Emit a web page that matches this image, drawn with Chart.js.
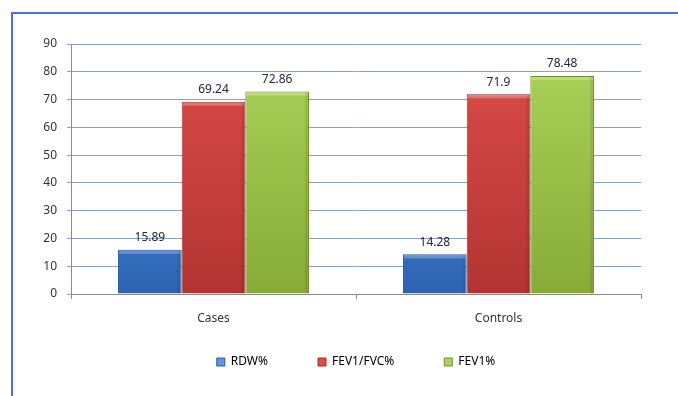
<!DOCTYPE html>
<html>
<head>
<meta charset="utf-8">
<script src="https://cdn.jsdelivr.net/npm/chart.js@4/dist/chart.umd.min.js"></script>
<style>
  html, body { margin: 0; padding: 0; background: #fff; }
  #wrap { position: relative; width: 678px; height: 396px; overflow: hidden; }
  #frame {
    position: absolute; left: 11px; top: 12px; width: 700px; height: 400px;
    border-left: 2px solid #4a72d8; border-top: 2px solid #4a72d8;
    pointer-events: none;
  }
</style>
</head>
<body>
<div id="wrap">
  <canvas id="chart" width="678" height="396"></canvas>
  <div id="frame"></div>
</div>
<script>
// chart data
const categories = ['Cases', 'Controls'];
const seriesNames = ['RDW%', 'FEV1/FVC%', 'FEV1%'];
const rdw = [15.89, 14.28];
const fev1Fvc = [69.24, 71.9];
const fev1 = [72.86, 78.48];
const yTicks = [0, 10, 20, 30, 40, 50, 60, 70, 80, 90];

// top / bottom gradient colours + border per series
const palette = [
    { top: '#5a98e6', bottom: '#2c64b2', border: '#2a5a9c' },
    { top: '#dd4d4a', bottom: '#b23432', border: '#9c2e2c' },
    { top: '#abd45a', bottom: '#88ab38', border: '#6f8e2c' }
];

function gradientFill(idx) {
    return function(context) {
        const chart = context.chart;
        const area = chart.chartArea;
        if (!area) return palette[idx].top;
        const g = chart.ctx.createLinearGradient(0, area.top, 0, area.bottom);
        g.addColorStop(0, palette[idx].top);
        g.addColorStop(1, palette[idx].bottom);
        return g;
    };
}

// values written above each bar
const valueLabels = {
    id: 'valueLabels',
    afterDatasetsDraw(chart) {
        const ctx = chart.ctx;
        ctx.save();
        ctx.font = '12px "Noto Sans", sans-serif';
        ctx.fillStyle = '#262640';
        ctx.textAlign = 'center';
        ctx.textBaseline = 'bottom';
        chart.data.datasets.forEach((ds, i) => {
            chart.getDatasetMeta(i).data.forEach((bar, j) => {
                ctx.fillText(String(ds.data[j]), bar.x, bar.y - 6);
            });
        });
        ctx.restore();
    }
};

// light bevel on the top edge of each bar
const bevel = {
    id: 'bevel',
    afterDatasetsDraw(chart) {
        const ctx = chart.ctx;
        ctx.save();
        chart.data.datasets.forEach((ds, i) => {
            chart.getDatasetMeta(i).data.forEach(bar => {
                const left = bar.x - bar.width / 2;
                ctx.fillStyle = 'rgba(255,255,255,0.25)';
                ctx.fillRect(left + 1, bar.y + 1, bar.width - 2, 3);
                ctx.fillStyle = 'rgba(0,0,0,0.08)';
                ctx.fillRect(left + bar.width - 4, bar.y + 1, 3, bar.base - bar.y - 1);
            });
        });
        ctx.restore();
    }
};

// wide gaps between legend items but a short legend box, kept just under the axis labels
const legendPlacement = {
    id: 'legendPlacement',
    afterInit(chart) {
        const lg = chart.legend;
        const fit = lg.fit.bind(lg);
        lg.fit = function() {
            fit();
            this.height = 30;
        };
    },
    afterLayout(chart) {
        const lg = chart.legend;
        lg.top = chart.chartArea.bottom + 12;
        lg.bottom = lg.top + 80;
    }
};

const ctx = document.getElementById('chart').getContext('2d');
const chart = new Chart(ctx, {
    type: 'bar',
    data: {
        labels: categories,
        datasets: [rdw, fev1Fvc, fev1].map((values, i) => ({
            label: seriesNames[i],
            data: values,
            backgroundColor: gradientFill(i),
            borderColor: palette[i].border,
            borderWidth: 1,
            barPercentage: 1.0,
            categoryPercentage: 0.67
        }))
    },
    options: {
        responsive: false,
        animation: false,
        layout: { padding: { left: 11, right: 37, top: 44, bottom: 32 } },
        scales: {
            x: {
                grid: { display: true, drawOnChartArea: false, color: '#8c8c8c', tickLength: 5, offset: true },
                border: { color: '#8c8c8c' },
                ticks: { color: '#333', font: { family: 'Noto Sans', size: 12 }, padding: 12, autoSkip: false, maxRotation: 0 },
                afterFit(scale) { scale.height = 40; }
            },
            y: {
                min: 0,
                max: 90,
                afterBuildTicks(scale) { scale.ticks = yTicks.map(v => ({ value: v })); },
                grid: { color: '#8da2bd', tickLength: 4 },
                border: { color: '#8c8c8c' },
                ticks: { color: '#333', font: { family: 'Noto Sans', size: 12 }, padding: 10 },
                afterFit(scale) { scale.width = 60; }
            }
        },
        plugins: {
            legend: {
                position: 'bottom',
                fullSize: false,
                labels: {
                    boxWidth: 8,
                    boxHeight: 8,
                    padding: 50,
                    color: '#333',
                    font: { family: 'Noto Sans', size: 12 },
                    generateLabels(chart) {
                        return chart.data.datasets.map((ds, i) => ({
                            text: ds.label,
                            fillStyle: palette[i].top,
                            strokeStyle: palette[i].border,
                            lineWidth: 1,
                            datasetIndex: i
                        }));
                    }
                }
            },
            tooltip: { enabled: false }
        }
    },
    plugins: [bevel, valueLabels, legendPlacement]
});
</script>
</body>
</html>
